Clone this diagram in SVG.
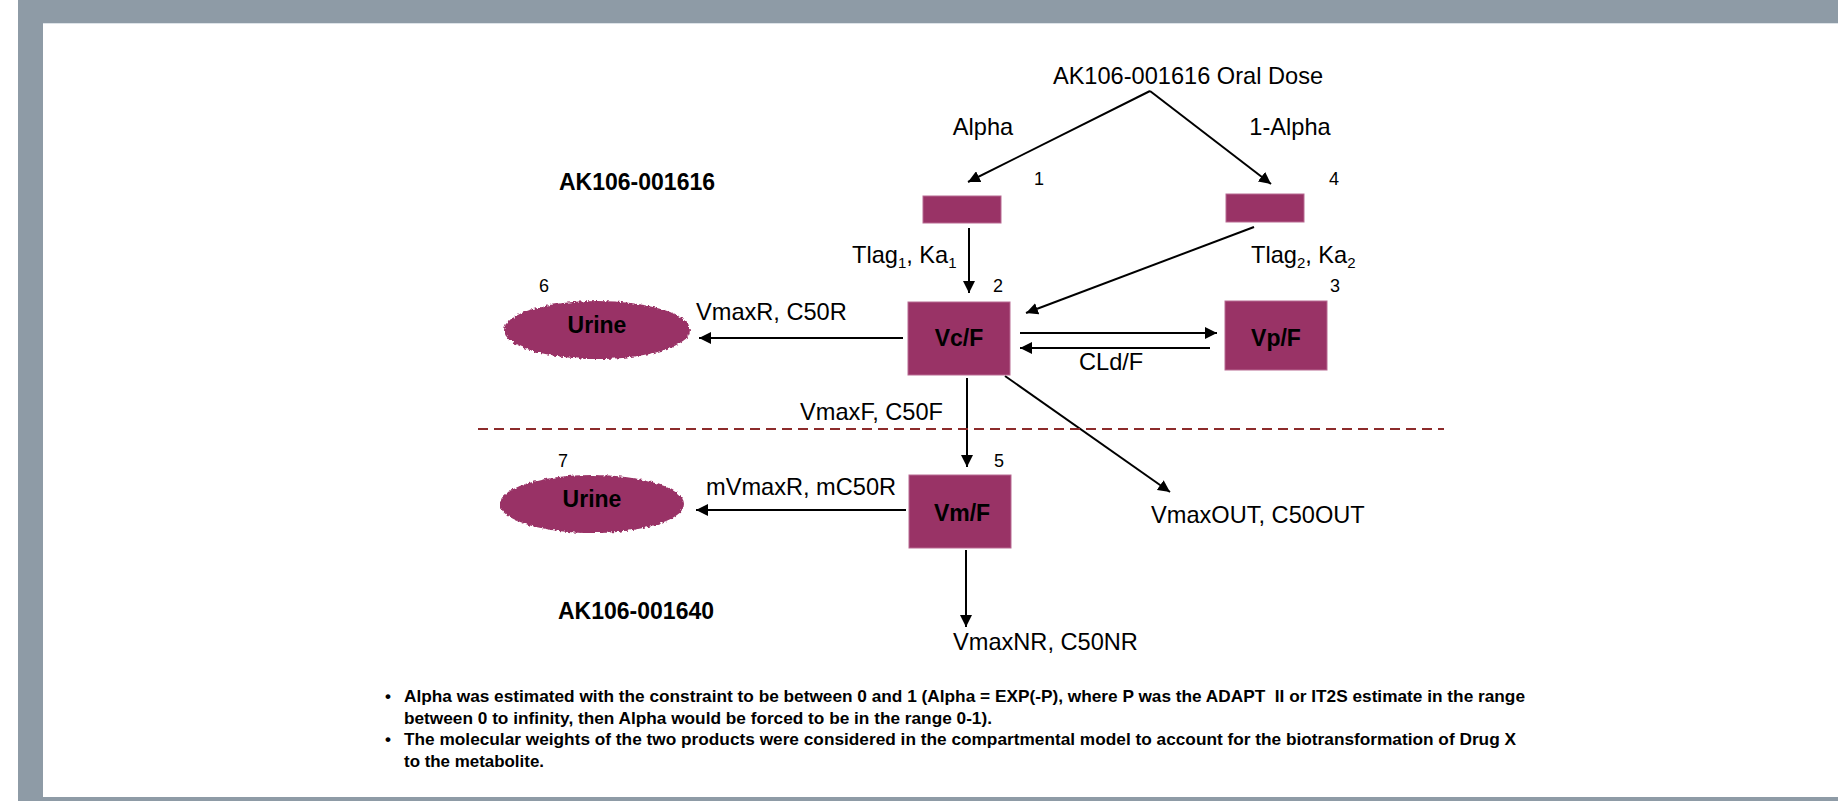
<svg xmlns="http://www.w3.org/2000/svg" width="1838" height="801" viewBox="0 0 1838 801">
  <style>
    .lbl { font-family: "Liberation Sans", Arial, sans-serif; font-size: 23.6px; fill: #000; }
    .num { font-family: "Liberation Sans", Arial, sans-serif; font-size: 18px; fill: #000; }
    .bold { font-family: "Liberation Sans", Arial, sans-serif; font-size: 23px; font-weight: bold; fill: #000; }
    .note { font-family: "Liberation Sans", Arial, sans-serif; font-size: 17px; font-weight: bold; fill: #000; }
    .box { fill: #993366; stroke: #b86a92; stroke-width: 1; }
    .oval { fill: #993366; }
    .conn { stroke: #000; stroke-width: 2; fill: none; marker-end: url(#arr); }
    .frame { fill: #8e9ba6; }
  </style>
  <defs>
    <marker id="arr" markerUnits="userSpaceOnUse" markerWidth="13" markerHeight="12" refX="12" refY="6" orient="auto">
      <path d="M0,0 L12,6 L0,12 z" fill="#000"/>
    </marker>
    <filter id="rough" x="-5%" y="-10%" width="110%" height="120%">
      <feTurbulence type="fractalNoise" baseFrequency="0.35" numOctaves="2" seed="3" result="n"/>
      <feDisplacementMap in="SourceGraphic" in2="n" scale="4" xChannelSelector="R" yChannelSelector="G"/>
    </filter>
  </defs>

  <!-- frame -->
  <rect x="0" y="0" width="1838" height="801" fill="#ffffff"/>
  <rect class="frame" x="18" y="0" width="1820" height="23"/>
  <rect class="frame" x="18" y="0" width="25" height="801"/>
  <rect class="frame" x="18" y="797" width="1820" height="4"/>
  <line x1="43" y1="23.5" x2="1838" y2="23.5" stroke="#dde3e8" stroke-width="1"/>

  <!-- connectors -->
  <g id="connectors">
    <line class="conn" x1="1150" y1="91" x2="968" y2="182"/>
    <line class="conn" x1="1150" y1="91" x2="1271" y2="184"/>
    <line class="conn" x1="969" y1="228" x2="969" y2="293"/>
    <line class="conn" x1="1254" y1="227" x2="1026" y2="313"/>
    <line class="conn" x1="903" y1="338" x2="699" y2="338"/>
    <line class="conn" x1="1020" y1="333" x2="1217" y2="333"/>
    <line class="conn" x1="1210" y1="348" x2="1020" y2="348"/>
    <line class="conn" x1="967" y1="378" x2="967" y2="467"/>
    <line class="conn" x1="1005" y1="376" x2="1170" y2="492"/>
    <line class="conn" x1="906" y1="510" x2="696" y2="510"/>
    <line class="conn" x1="966" y1="550" x2="966" y2="627"/>
    <line x1="478" y1="429" x2="1444" y2="429" stroke="#8c2b2b" stroke-width="2" stroke-dasharray="10 6"/>
  </g>

  <!-- labels -->
  <g id="labels">
    <text class="lbl" x="1188" y="84" text-anchor="middle">AK106-001616 Oral Dose</text>
    <text class="lbl" x="983" y="135" text-anchor="middle">Alpha</text>
    <text class="lbl" x="1290" y="135" text-anchor="middle">1-Alpha</text>
    <text class="bold" x="559" y="190">AK106-001616</text>
    <text class="bold" x="558" y="619">AK106-001640</text>
    <text class="lbl" x="852" y="263">Tlag<tspan font-size="15" dy="5">1</tspan><tspan dy="-5">, Ka</tspan><tspan font-size="15" dy="5">1</tspan></text>
    <text class="lbl" x="1251" y="263">Tlag<tspan font-size="15" dy="5">2</tspan><tspan dy="-5">, Ka</tspan><tspan font-size="15" dy="5">2</tspan></text>
    <text class="lbl" x="696" y="320">VmaxR, C50R</text>
    <text class="lbl" x="1079" y="370">CLd/F</text>
    <text class="lbl" x="943" y="420" text-anchor="end">VmaxF, C50F</text>
    <text class="lbl" x="706" y="495">mVmaxR, mC50R</text>
    <text class="lbl" x="1151" y="523">VmaxOUT, C50OUT</text>
    <text class="lbl" x="953" y="650">VmaxNR, C50NR</text>
  </g>

  <!-- nodes -->
  <g id="node1">
    <rect class="box" x="923" y="196" width="78" height="27"/>
    <text class="num" x="1034" y="185">1</text>
  </g>
  <g id="node4">
    <rect class="box" x="1226" y="194" width="78" height="28"/>
    <text class="num" x="1329" y="185">4</text>
  </g>
  <g id="node2">
    <rect class="box" x="908" y="302" width="102" height="73"/>
    <text class="bold" x="959" y="346" text-anchor="middle">Vc/F</text>
    <text class="num" x="993" y="292">2</text>
  </g>
  <g id="node3">
    <rect class="box" x="1225" y="301" width="102" height="69"/>
    <text class="bold" x="1276" y="346" text-anchor="middle">Vp/F</text>
    <text class="num" x="1330" y="292">3</text>
  </g>
  <g id="node5">
    <rect class="box" x="909" y="475" width="102" height="73"/>
    <text class="bold" x="962" y="521" text-anchor="middle">Vm/F</text>
    <text class="num" x="994" y="467">5</text>
  </g>
  <g id="node6">
    <ellipse class="oval" cx="597" cy="330" rx="93" ry="29" filter="url(#rough)"/>
    <text class="bold" x="597" y="333" text-anchor="middle">Urine</text>
    <text class="num" x="539" y="292">6</text>
  </g>
  <g id="node7">
    <ellipse class="oval" cx="592" cy="504" rx="92" ry="29" filter="url(#rough)"/>
    <text class="bold" x="592" y="507" text-anchor="middle">Urine</text>
    <text class="num" x="558" y="467">7</text>
  </g>

  <!-- notes -->
  <g id="notes">
    <text class="note" x="385" y="702" font-size="13">•</text>
    <text class="note" x="404" y="702" textLength="1121" lengthAdjust="spacingAndGlyphs">Alpha was estimated with the constraint to be between 0 and 1 (Alpha = EXP(-P), where P was the ADAPT &#160;II or IT2S estimate in the range</text>
    <text class="note" x="404" y="724" textLength="588" lengthAdjust="spacingAndGlyphs">between 0 to infinity, then Alpha would be forced to be in the range 0-1).</text>
    <text class="note" x="385" y="745" font-size="13">•</text>
    <text class="note" x="404" y="745" textLength="1112" lengthAdjust="spacingAndGlyphs">The molecular weights of the two products were considered in the compartmental model to account for the biotransformation of Drug X</text>
    <text class="note" x="404" y="767" textLength="140" lengthAdjust="spacingAndGlyphs">to the metabolite.</text>
  </g>
</svg>
